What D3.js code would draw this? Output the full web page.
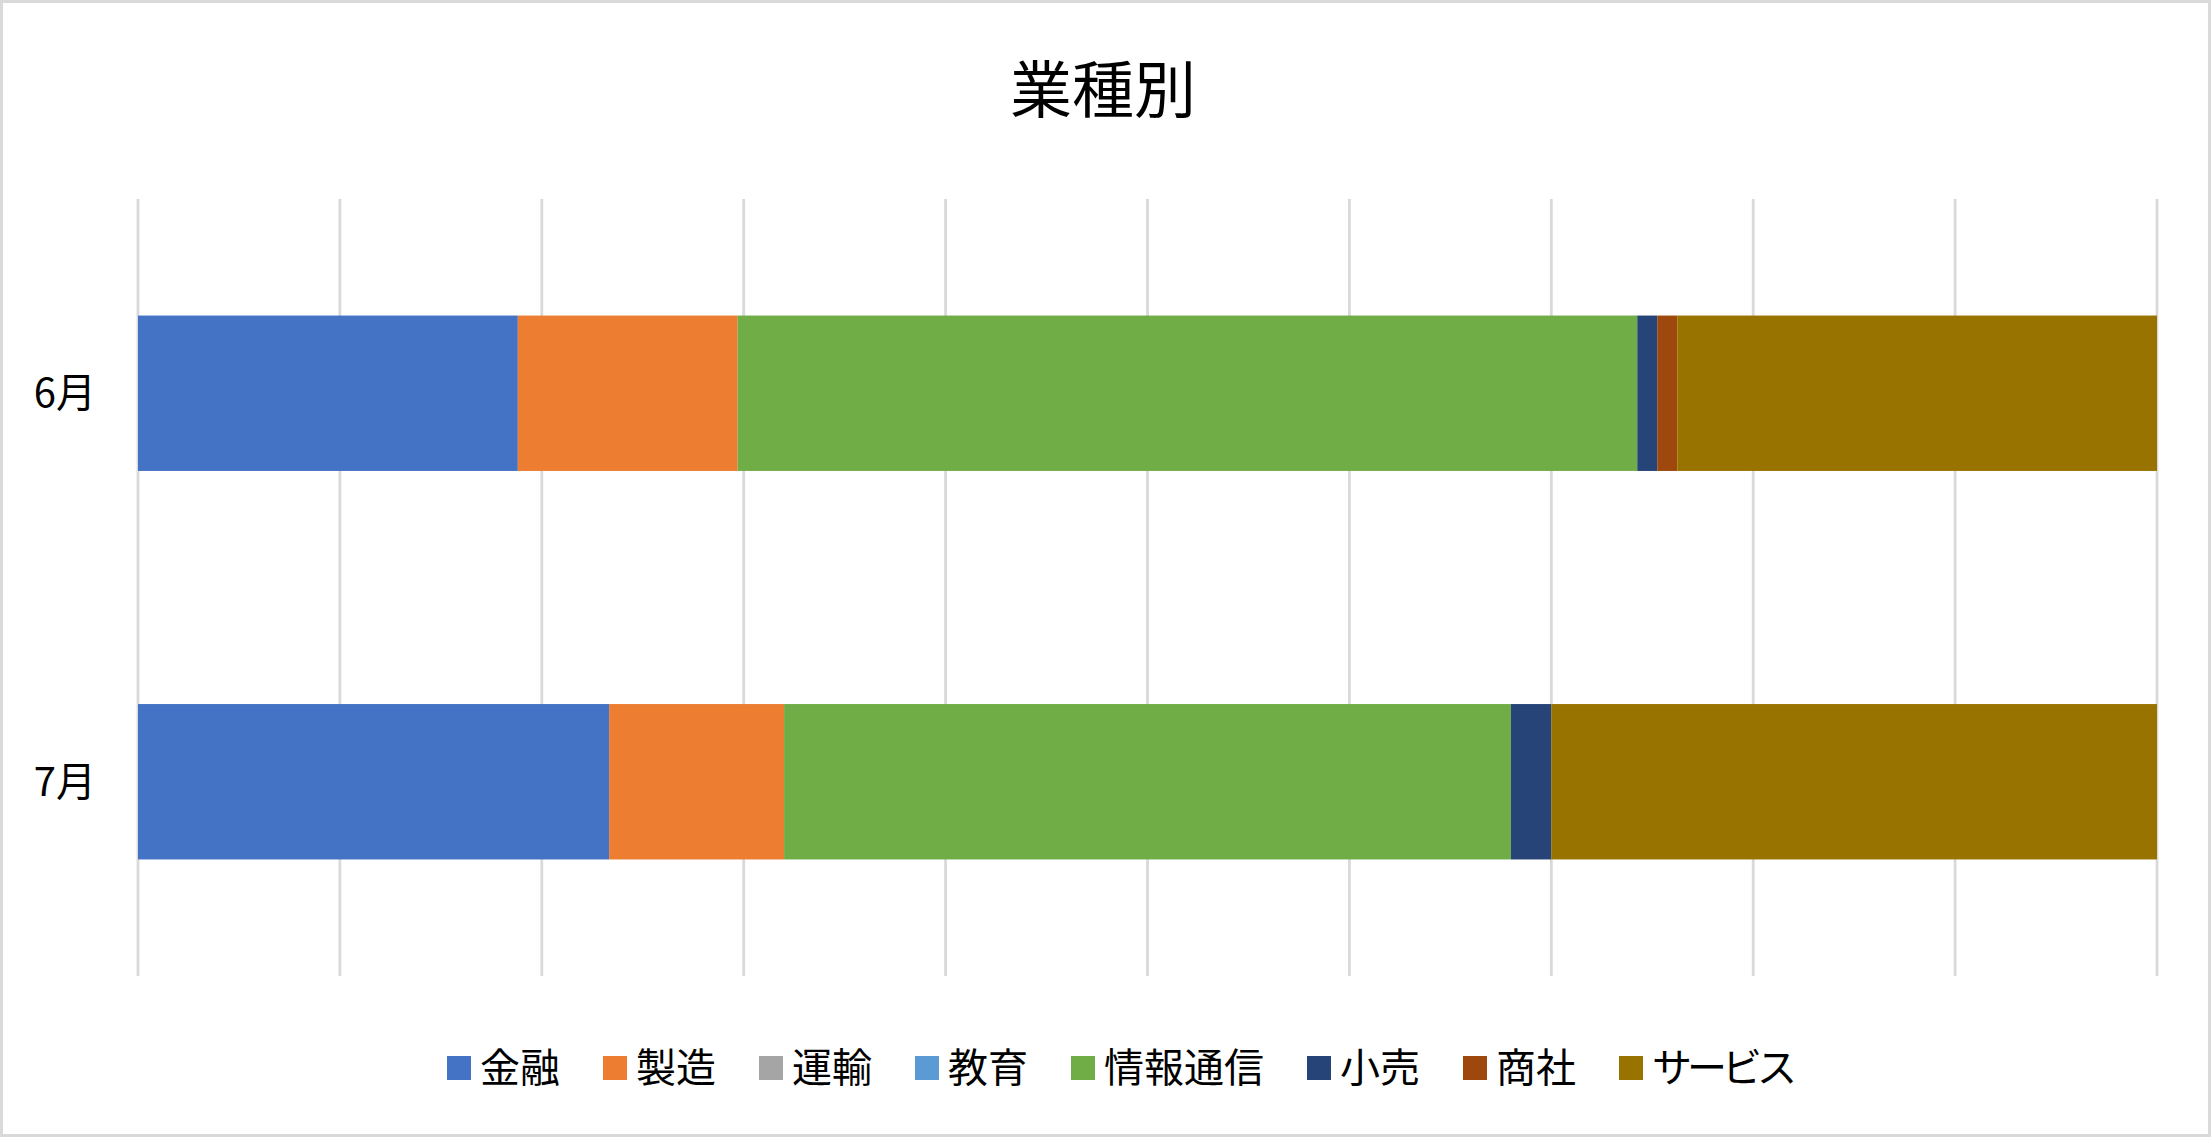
<!DOCTYPE html>
<html>
<head>
<meta charset="utf-8">
<script src="https://cdn.jsdelivr.net/npm/d3@7"></script>
<style>
  body { margin: 0; background: #fff; }
  text { font-family: "Noto Sans CJK JP", "Noto Sans", sans-serif; fill: #000; }
</style>
</head>
<body>
<div id="chart"></div>
<script>
// data (counts per month, shown as 100% stacked)
var months = ["6月", "7月"];
var industries = ["金融", "製造", "運輸", "教育", "情報通信", "小売", "商社", "サービス"];
var june = [19, 11, 0, 0, 45, 1, 1, 24];
var july = [35, 13, 0, 0, 54, 3, 0, 45];
var colors = ["#4472c4", "#ed7d31", "#a5a5a5", "#5b9bd5", "#70ad47", "#264478", "#9e480e", "#997300"];
var gridTicks = [0, 0.1, 0.2, 0.3, 0.4, 0.5, 0.6, 0.7, 0.8, 0.9, 1];
var title = "業種別";

var width = 2211, height = 1137;

var rows = [june, july].map(function(vals, i){
    var r = { month: months[i] };
    industries.forEach(function(k, j){ r[k] = vals[j]; });
    return r;
});

var svg = d3.select("#chart")
    .append("svg")
    .attr("width", width)
    .attr("height", height);

// chart border
svg.append("rect")
    .attr("x", 1.5).attr("y", 1.5)
    .attr("width", width - 3).attr("height", height - 3)
    .attr("fill", "#fff")
    .attr("stroke", "#d9d9d9")
    .attr("stroke-width", 3);

svg.append("text")
    .attr("x", 1103)
    .attr("y", 113)
    .attr("text-anchor", "middle")
    .style("font-size", "62px")
    .text(title);

var x = d3.scaleLinear().domain([0, 1]).range([138, 2157]);
var y = d3.scaleBand().domain(months).range([199, 976])
    .paddingInner(0.6).paddingOuter(0.3);

// vertical gridlines
svg.append("g")
    .attr("class", "grid")
    .selectAll("line")
    .data(gridTicks)
    .enter().append("line")
    .attr("x1", function(d){ return x(d); })
    .attr("x2", function(d){ return x(d); })
    .attr("y1", 199)
    .attr("y2", 976)
    .attr("stroke", "#d9d9d9")
    .attr("stroke-width", 2.8);

var stack = d3.stack().keys(industries).offset(d3.stackOffsetExpand);
var series = stack(rows);

var barsG = svg.append("g").attr("class", "bars");
barsG.selectAll("g")
    .data(series)
    .enter().append("g")
    .attr("fill", function(d, i){ return colors[i]; })
    .selectAll("rect")
    .data(function(d){ return d; })
    .enter().append("rect")
    .attr("x", function(d){ return x(d[0]); })
    .attr("width", function(d){ return Math.max(0, x(d[1]) - x(d[0])); })
    .attr("y", function(d){ return y(d.data.month); })
    .attr("height", y.bandwidth());

// category labels
svg.append("g")
    .selectAll("text")
    .data(months)
    .enter().append("text")
    .attr("x", 96)
    .attr("y", function(d){ return y(d) + y.bandwidth() / 2 + 14; })
    .attr("text-anchor", "end")
    .style("font-size", "40px")
    .text(function(d){ return d; });

// legend
var legend = svg.append("g").attr("class", "legend");
var items = legend.selectAll("g")
    .data(industries)
    .enter().append("g");
items.append("rect")
    .attr("width", 24)
    .attr("height", 24)
    .attr("y", 1056)
    .attr("fill", function(d, i){ return colors[i]; });
items.append("text")
    .attr("x", 33)
    .attr("y", 1082)
    .style("font-size", "40px")
    // katakana is set tighter in the original
    .style("letter-spacing", function(d){ return /[\u30a0-\u30ff]/.test(d) ? "-5px" : null; })
    .text(function(d){ return d; });

var pos = 0;
items.each(function(){
    var g = d3.select(this);
    g.attr("transform", "translate(" + pos + ",0)");
    pos += 33 + g.select("text").node().getComputedTextLength() + 43;
});
legend.attr("transform", "translate(447,0)");
</script>
</body>
</html>
